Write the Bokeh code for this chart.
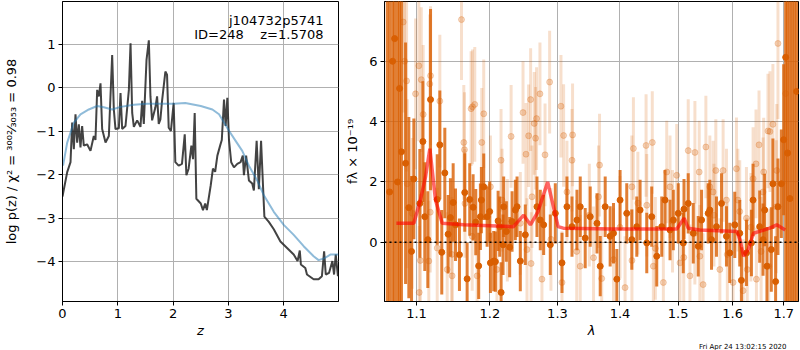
from bokeh.plotting import figure
from bokeh.layouts import row
from bokeh.models import ColumnDataSource, FixedTicker, Label, Span, Range1d, PrintfTickFormatter, Title
from bokeh.embed import file_html
from bokeh.resources import INLINE

FONT = "DejaVu Sans"

# ---------------- left panel: log p(z) ----------------
pz_z = [0.00, 0.01, 0.085, 0.145, 0.175, 0.205, 0.235, 0.265, 0.295, 0.325, 0.355, 0.385, 0.445,
        0.506, 0.566, 0.596, 0.627, 0.657, 0.687, 0.717, 0.778, 0.838, 0.898, 0.928, 0.958, 1.019,
        1.049, 1.079, 1.139, 1.200, 1.230, 1.260, 1.290, 1.350, 1.410, 1.440, 1.470, 1.519, 1.561,
        1.590, 1.620, 1.680, 1.710, 1.740, 1.770, 1.800, 1.860, 1.890, 1.920, 1.960, 2.010, 2.040,
        2.100, 2.160, 2.210, 2.240, 2.280, 2.330, 2.360, 2.390, 2.420, 2.500, 2.540, 2.580, 2.610,
        2.680, 2.720, 2.760, 2.800, 2.850, 2.880, 2.920, 2.950, 2.980, 3.010, 3.050, 3.100, 3.160,
        3.220, 3.260, 3.280, 3.320, 3.370, 3.430, 3.460, 3.510, 3.550, 3.590, 3.630, 3.650, 3.730,
        3.820, 3.940, 4.060, 4.180, 4.250, 4.290, 4.310, 4.390, 4.420, 4.540, 4.630, 4.690, 4.730,
        4.760, 4.820, 4.880, 4.910, 4.940, 4.980]
pz_logp = [-2.50, -2.43, -1.94, -1.71, -0.80, -1.41, -0.61, -1.26, -0.84, -1.37, -0.88, -1.33, -1.30,
           -1.45, -1.11, -1.20, -0.05, -0.20, 0.10, -0.95, -1.26, -1.11, 0.75, -0.50, -0.95, -0.93,
           -0.12, -0.95, -0.88, -0.05, 1.02, -0.58, -0.90, -0.75, -0.90, -0.30, -0.83, 0.64, 1.09,
           -0.20, -0.75, -0.45, -0.20, -0.83, -0.73, -0.30, 0.37, 0.30, -0.92, -0.99, -0.35, -1.71,
           -1.79, -1.75, -1.07, -2.01, -1.86, -1.33, -1.64, -0.58, -2.55, -2.66, -2.81, -2.66, -2.81,
           -2.24, -1.86, -1.93, -1.56, -1.33, -1.20, -0.27, -0.88, -0.23, -1.20, -1.71, -1.83, -1.75,
           -1.71, -1.56, -2.01, -1.56, -2.13, -2.20, -2.36, -1.22, -2.33, -1.22, -2.39, -2.96, -3.08,
           -3.25, -3.53, -3.68, -3.83, -3.98, -3.74, -4.06, -4.14, -4.29, -4.40, -4.40, -4.33, -3.76,
           -4.29, -4.25, -3.98, -4.29, -3.83, -4.33]

prior_z = [0.01, 0.085, 0.205, 0.325, 0.476, 0.627, 0.747, 0.898, 1.05, 1.29, 1.53, 1.77, 2.01, 2.22,
           2.50, 2.71, 2.83, 2.92, 3.01, 3.13, 3.25, 3.37, 3.52, 3.64, 3.82, 4.00, 4.18, 4.36, 4.54,
           4.63, 4.73, 4.85, 4.99]
prior_logp = [-1.79, -1.26, -0.80, -0.61, -0.50, -0.42, -0.45, -0.50, -0.44, -0.39, -0.37, -0.37,
              -0.37, -0.35, -0.42, -0.50, -0.61, -0.80, -0.99, -1.22, -1.45, -1.79, -2.13, -2.47,
              -2.85, -3.15, -3.38, -3.64, -3.87, -3.96, -3.92, -3.83, -3.83]

z_ticks = [0, 1, 2, 3, 4]
logp_ticks = [-4, -3, -2, -1, 0, 1]

# ---------------- right panel: spectrum ----------------
dark_wave = [1.0625, 1.0654, 1.0692, 1.0718, 1.0755, 1.0781, 1.0805, 1.0858, 1.0900, 1.0935, 1.0965,
             1.1043, 1.1083, 1.1108, 1.1148, 1.1184, 1.1273, 1.1308, 1.1334, 1.1375, 1.1420, 1.1451,
             1.1488, 1.1520, 1.1574, 1.1647, 1.1680, 1.1716, 1.1763, 1.1800, 1.1841, 1.1865, 1.1879,
             1.1912, 1.1960, 1.1996, 1.2007, 1.2054, 1.2078, 1.2117, 1.2140, 1.2160, 1.2188, 1.2197,
             1.2236, 1.2284, 1.2319, 1.2367, 1.2392, 1.2440, 1.2514, 1.2688, 1.2738, 1.2789, 1.2890,
             1.2967, 1.3070, 1.3147, 1.3226, 1.3304, 1.3356, 1.3435, 1.3515, 1.3624, 1.3676, 1.3757,
             1.3838, 1.3893, 1.3948, 1.4002, 1.4113, 1.4198, 1.4282, 1.4338, 1.4452, 1.4537, 1.4624,
             1.4711, 1.4768, 1.4856, 1.4914, 1.5002, 1.5091, 1.5104, 1.5180, 1.5271, 1.5361, 1.5422,
             1.5543, 1.5574, 1.5605, 1.5697, 1.5791, 1.5884, 1.5946, 1.6041, 1.6136, 1.6168, 1.6265,
             1.6361, 1.6393, 1.6522, 1.6588, 1.6620, 1.6665, 1.6751, 1.6783, 1.6837, 1.6884, 1.6952,
             1.6998, 1.7039, 1.7078, 1.7125, 1.7170, 1.7215, 1.7260]
dark_flux = [9.00, 1.67, 6.00, 6.75, 2.00, 5.10, 3.00, 2.62, 1.15, -0.30, 2.10,
             1.29, 3.34, 0.85, 0.09, 4.73, 1.42, 3.23, -0.33, 2.30, 0.27, 0.82,
             1.32, 0.58, -0.41, 1.65, -1.21, 1.42, 1.16, 0.67, -0.78, 0.85, 1.40,
             1.84, 0.85, 1.02, -0.68, -0.62, -0.64, 0.71, 0.52, -1.66, -0.08, 1.18,
             0.36, -0.16, 0.69, 1.07, 1.18, -0.62, 0.25, 1.18, 0.74, 0.58, -0.08,
             0.96, -0.68, 1.18, 0.52, 0.74, 1.18, 0.14, 0.85, 0.63, -0.79, 1.18,
             0.20, 0.30, -1.22, 1.40, 0.96, 0.09, 0.52, 1.07, -0.02, 0.85, -0.46,
             0.52, 1.40, 0.41, 0.74, 0.96, -0.02, 1.10, 1.29, 0.30, -0.13, 0.74,
             0.96, 1.07, 0.09, 0.52, 1.29, 0.20, -0.35, 0.58, 0.30, -1.26, -0.35,
             -0.02, 1.40, 0.52, 0.09, 1.07, -0.79, -0.24, 1.94, -1.30, 1.18, 1.94,
             3.40, 6.13, 2.96, 1.45, 8.50, -3.00, 5.00]
dark_err = [12.0, 12.0, 12.0, 12.0, 12.0, 12.0, 12.0, 4.0, 3.0, 2.5, 2.0,
            1.8, 2.0, 1.8, 1.6, 3.0, 1.5, 1.8, 1.4, 1.5, 1.3, 1.3,
            1.3, 1.2, 1.2, 1.3, 1.2, 1.2, 1.1, 1.1, 1.1, 1.1, 1.1,
            1.1, 1.0, 1.0, 1.0, 1.0, 1.0, 1.0, 1.0, 1.0, 1.0, 1.0,
            1.0, 1.0, 1.0, 1.0, 1.0, 1.0, 1.0, 1.0, 1.0, 1.0, 1.0,
            1.0, 1.0, 1.0, 1.0, 1.0, 1.0, 1.0, 1.0, 1.0, 1.0, 1.0,
            1.0, 1.0, 1.0, 1.0, 1.0, 1.0, 1.0, 1.0, 1.0, 1.0, 1.0,
            1.0, 1.0, 1.0, 1.0, 1.0, 1.0, 1.0, 1.0, 1.0, 1.0, 1.0,
            1.0, 1.0, 1.0, 1.0, 1.0, 1.0, 1.0, 1.1, 1.1, 1.1, 1.1,
            1.1, 1.2, 1.2, 1.2, 1.2, 1.3, 1.4, 1.5, 1.5, 1.6, 1.8,
            2.5, 12.0, 12.0, 12.0, 12.0, 12.0, 12.0]

light_wave = [1.0828, 1.0845, 1.0871, 1.0879, 1.0944, 1.0987, 1.1030, 1.1035, 1.1062, 1.1087, 1.1161,
              1.1174, 1.1184, 1.1273, 1.1308, 1.1407, 1.1474, 1.1602, 1.1634, 1.1643, 1.1650, 1.1735,
              1.1754, 1.1786, 1.1819, 1.1884, 1.1912, 1.2007, 1.2159, 1.2174, 1.2305, 1.2440, 1.2480,
              1.2524, 1.2539, 1.2563, 1.2593, 1.2613, 1.2647, 1.2667, 1.2682, 1.2733, 1.2763, 1.2810,
              1.2880, 1.3054, 1.3070, 1.3095, 1.3147, 1.3226, 1.3235, 1.3356, 1.3568, 1.3648, 1.3665,
              1.3893, 1.4085, 1.4198, 1.4225, 1.4440, 1.4452, 1.4547, 1.4565, 1.4739, 1.4798, 1.4856,
              1.4974, 1.5032, 1.5180, 1.5211, 1.5301, 1.5379, 1.5391, 1.5501, 1.5574, 1.5635, 1.5685,
              1.5760, 1.5821, 1.5884, 1.6009, 1.6073, 1.6136, 1.6265, 1.6280, 1.6393, 1.6458, 1.6509,
              1.6588, 1.6600, 1.6685, 1.6700, 1.6724, 1.6783, 1.6850, 1.6860, 1.6884, 1.7039, 1.7078,
              1.1050, 1.1180, 1.1470, 1.1750, 1.2100, 1.2250, 1.2600, 1.2900, 1.3300, 1.3500, 1.3700,
              1.4000, 1.4200, 1.4300, 1.4600, 1.4900, 1.5100, 1.5300, 1.5450, 1.5650, 1.5900, 1.6100,
              1.6200, 1.6350, 1.6450, 1.6550]
light_flux = [7.30, 6.00, 5.35, 1.94, 0.96, 4.92, 5.85, -1.66, 5.39, 4.24, -0.62,
              5.25, 5.52, -0.19, 4.68, -0.90, -1.11, 7.38, 3.31, 3.07, 1.29, 4.43,
              4.49, 4.57, -1.11, 3.31, 4.26, 1.84, 2.72, 1.40, 3.51, 0.63, 4.30,
              2.92, -0.24, 3.53, 4.73, 1.51, 3.94, 3.45, 4.10, 4.92, -1.22, 2.90,
              5.31, 4.51, -1.33, 3.54, 1.67, 2.72, 3.56, -0.79, -0.51, 1.51, 2.56,
              -0.57, -1.50, 1.84, 3.11, 3.21, 1.23, 3.31, -0.79, -1.33, 2.33, 1.84,
              2.22, -0.68, 3.04, -1.11, 2.98, 2.33, -0.46, 3.16, 1.84, 1.67, 2.38,
              -0.90, 2.38, 1.40, -1.33, 2.44, 1.02, 0.80, -0.90, 2.11, -1.22, 3.23,
              1.67, 2.33, 3.69, -0.79, 3.67, 3.91, 1.18, 2.38, 6.59, 4.93, 2.95,
              -0.60, 1.00, -0.40, 0.20, -0.90, 0.40, -0.70, 0.10, -0.30, 0.90, -1.20,
              0.50, -0.60, 1.30, -0.20, 0.70, -0.50, 0.30, -1.40, 0.90, -0.40, 1.40,
              -1.60, 0.50, 2.60, -0.30]
light_err = [3.0, 3.0, 3.0, 2.8, 2.5, 2.5, 2.5, 2.2, 2.4, 2.3, 2.0,
             2.3, 2.3, 2.0, 2.2, 1.9, 1.9, 2.0, 1.9, 1.9, 1.8, 1.9,
             1.9, 1.9, 1.8, 1.8, 1.8, 1.7, 1.7, 1.7, 1.7, 1.7, 1.7,
             1.7, 1.7, 1.7, 1.7, 1.7, 1.7, 1.7, 1.7, 1.7, 1.7, 1.7,
             1.7, 1.7, 1.7, 1.7, 1.7, 1.7, 1.7, 1.7, 1.7, 1.7, 1.7,
             1.7, 1.7, 1.7, 1.7, 1.7, 1.7, 1.7, 1.7, 1.7, 1.7, 1.7,
             1.7, 1.7, 1.7, 1.7, 1.7, 1.7, 1.7, 1.7, 1.7, 1.7, 1.7,
             1.7, 1.7, 1.7, 1.7, 1.7, 1.7, 1.7, 1.7, 1.7, 1.7, 1.8,
             1.8, 1.8, 1.9, 1.9, 2.0, 2.0, 2.2, 2.2, 2.5, 3.0, 3.0,
             2.2, 2.0, 1.9, 1.8, 1.7, 1.7, 1.7, 1.7, 1.7, 1.7, 1.7,
             1.7, 1.7, 1.7, 1.7, 1.7, 1.7, 1.7, 1.7, 1.7, 1.7, 1.7,
             1.7, 1.8, 1.8, 1.8]

model_wave = [1.074, 1.0965, 1.105, 1.1117, 1.1175, 1.125, 1.134, 1.1633, 1.234, 1.249, 1.259, 1.270,
              1.285, 1.301, 1.309, 1.389, 1.4975, 1.5106, 1.518, 1.539, 1.608, 1.614, 1.621, 1.630,
              1.640, 1.672, 1.686, 1.703]
model_flux = [0.63, 0.63, 1.40, 2.16, 3.10, 1.40, 0.63, 0.58, 0.52, 0.90, 0.58, 1.00,
              2.00, 0.52, 0.47, 0.44, 0.44, 0.80, 0.47, 0.41, 0.36, 0.09, -0.46, -0.24,
              0.30, 0.47, 0.58, 0.41]

wave_ticks = [1.1, 1.2, 1.3, 1.4, 1.5, 1.6, 1.7]
flux_ticks = [0, 2, 4, 6]

ORANGE = "#d95f02"
GRID = "#b0b0b0"
FS = "13px"


def style(p):
    p.background_fill_color = "white"
    p.border_fill_color = "white"
    p.outline_line_color = "black"
    p.outline_line_width = 1
    p.grid.grid_line_color = GRID
    p.grid.grid_line_width = 1
    for ax in p.axis:
        ax.axis_line_color = "black"
        ax.major_tick_line_color = "black"
        ax.major_tick_out = 4
        ax.major_tick_in = 0
        ax.minor_tick_out = 0
        ax.minor_tick_in = 0
        ax.major_label_text_font = FONT
        ax.major_label_text_font_size = FS
        ax.major_label_text_color = "black"
        ax.axis_label_text_font = FONT
        ax.axis_label_text_font_size = FS
        ax.axis_label_text_color = "black"
        ax.axis_label_text_font_style = "normal"
        ax.major_label_standoff = 3
        ax.axis_label_standoff = 2


def stamp(p, text):
    p.add_layout(Title(text=text, align="right", offset=12, standoff=0, text_font=FONT,
                       text_font_size="7px", text_font_style="normal", text_color="black"), "below")


H = 350

# ---- left figure
p1 = figure(width=340, height=H, x_range=Range1d(0, 4.99), y_range=Range1d(-4.91, 1.98),
            output_backend="svg", toolbar_location=None,
            min_border_left=62, min_border_right=2, min_border_top=1, min_border_bottom=0)
style(p1)
p1.xaxis.ticker = FixedTicker(ticks=z_ticks)
p1.yaxis.ticker = FixedTicker(ticks=logp_ticks)
p1.xgrid.ticker = FixedTicker(ticks=z_ticks)
p1.ygrid.ticker = FixedTicker(ticks=logp_ticks)
p1.yaxis.major_label_overrides = {t: ("\u2212" + str(abs(t)) if t < 0 else str(t)) for t in logp_ticks}
p1.xaxis.axis_label = "z"
p1.xaxis.axis_label_text_font_style = "italic"
p1.yaxis.axis_label = "log p(z) / \u03c7\u00b2 = \u00b3\u2070\u2070\u00b2\u2044\u2083\u2080\u2085\u2083 = 0.98"
p1.yaxis.axis_label_standoff = 14
stamp(p1, "\u00a0")

p1.line(pz_z, pz_logp, line_color="#222222", line_alpha=0.85, line_width=2)
p1.line(prior_z, prior_logp, line_color="#1f77b4", line_alpha=0.5, line_width=2)

p1.add_layout(Label(x=4.99, y=1.98, x_offset=-15, y_offset=-19, text="j104732p5741",
                    text_align="right", text_baseline="middle", text_font=FONT,
                    text_font_size=FS, text_color="black"))
p1.add_layout(Label(x=4.99, y=1.98, x_offset=-15, y_offset=-33, text="ID=248\u00a0\u00a0\u00a0\u00a0z=1.5708",
                    text_align="right", text_baseline="middle", text_font=FONT,
                    text_font_size=FS, text_color="black"))

# ---- right figure
p2 = figure(width=459, height=H, x_axis_type="log", x_range=Range1d(1.059, 1.730),
            y_range=Range1d(-1.96, 7.98), output_backend="svg", toolbar_location=None,
            min_border_left=44, min_border_right=1, min_border_top=1, min_border_bottom=0)
style(p2)
p2.xaxis.ticker = FixedTicker(ticks=wave_ticks)
p2.xgrid.ticker = FixedTicker(ticks=wave_ticks)
p2.xaxis.formatter = PrintfTickFormatter(format="%.1f")
p2.yaxis.ticker = FixedTicker(ticks=flux_ticks)
p2.ygrid.ticker = FixedTicker(ticks=flux_ticks)
p2.xaxis.axis_label = "\u03bb"
p2.xaxis.axis_label_text_font_style = "italic"
p2.yaxis.axis_label = "f\u03bb \u00d7 10\u207b\u00b9\u2079"
p2.yaxis.axis_label_standoff = 6
stamp(p2, "Fri Apr 24 13:02:15 2020")

light = ColumnDataSource(dict(x=light_wave, y=light_flux,
                              lo=[f - e for f, e in zip(light_flux, light_err)],
                              hi=[f + e for f, e in zip(light_flux, light_err)]))
dark = ColumnDataSource(dict(x=dark_wave, y=dark_flux,
                             lo=[f - e for f, e in zip(dark_flux, dark_err)],
                             hi=[f + e for f, e in zip(dark_flux, dark_err)]))

p2.segment(x0="x", y0="lo", x1="x", y1="hi", source=light, line_color=ORANGE, line_alpha=0.2, line_width=3)
p2.scatter("x", "y", source=light, size=6, fill_color=ORANGE, line_color=ORANGE, fill_alpha=0.25, line_alpha=0.25)
p2.segment(x0="x", y0="lo", x1="x", y1="hi", source=dark, line_color=ORANGE, line_alpha=0.8, line_width=3)
p2.scatter("x", "y", source=dark, size=6, fill_color=ORANGE, line_color=ORANGE)
p2.line(model_wave, model_flux, line_color="red", line_alpha=0.6, line_width=3.5)
p2.add_layout(Span(location=0, dimension="width", line_color="black", line_dash="2 3", line_width=1.5))

layout = row(p1, p2)
open("out.html", "w").write(file_html(layout, INLINE))
